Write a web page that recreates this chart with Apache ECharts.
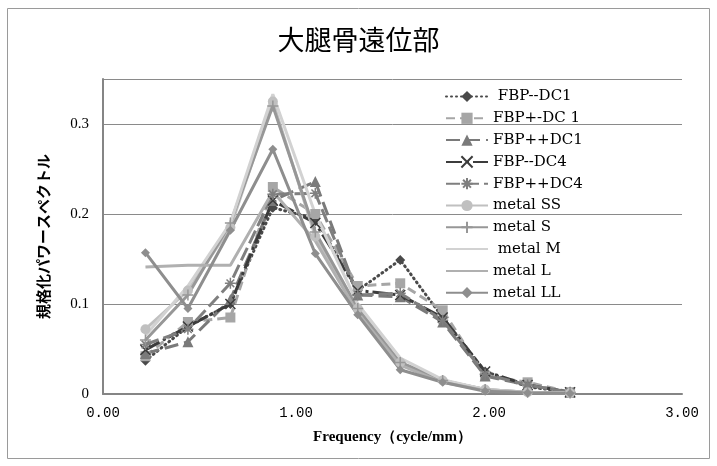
<!DOCTYPE html>
<html><head><meta charset="utf-8">
<script src="https://cdn.jsdelivr.net/npm/echarts@6/dist/echarts.min.js"></script>
<style>html,body{margin:0;padding:0;background:#fff}#c{width:717px;height:466px}</style>
</head><body><div id="c"></div>
<script>
const freq = [0.22,0.44,0.66,0.88,1.10,1.32,1.54,1.76,1.98,2.20,2.42];
const fbpMM_DC1 = [0.037,0.075,0.100,0.207,0.195,0.115,0.149,0.085,0.025,0.008,0.002];
const fbpPM_DC1 = [0.042,0.080,0.085,0.230,0.200,0.120,0.123,0.093,0.020,0.013,0.002];
const fbpPP_DC1 = [0.045,0.058,0.105,0.215,0.236,0.110,0.108,0.080,0.020,0.010,0.002];
const fbpMM_DC4 = [0.049,0.075,0.100,0.215,0.190,0.115,0.110,0.085,0.025,0.010,0.002];
const fbpPP_DC4 = [0.055,0.072,0.123,0.222,0.223,0.110,0.112,0.082,0.022,0.010,0.002];
const metalSS = [0.072,0.115,0.185,0.325,0.175,0.095,0.035,0.015,0.005,0.002,0.001];
const metalS  = [0.060,0.110,0.190,0.320,0.180,0.095,0.035,0.015,0.005,0.002,0.001];
const metalM  = [0.065,0.120,0.190,0.333,0.200,0.100,0.040,0.016,0.005,0.002,0.001];
const metalL  = [0.141,0.143,0.143,0.225,0.170,0.090,0.032,0.013,0.004,0.002,0.001];
const metalLL = [0.157,0.095,0.182,0.272,0.156,0.088,0.027,0.013,0.003,0.001,0.0005];
const seriesNames = [' FBP--DC1','FBP+-DC 1','FBP++DC1','FBP--DC4','FBP++DC4','metal SS','metal S',' metal M','metal L','metal LL'];
const xTicks = [0,1,2,3];
const yTicks = [0,0.1,0.2,0.3];

const allData = [fbpMM_DC1,fbpPM_DC1,fbpPP_DC1,fbpMM_DC4,fbpPP_DC4,metalSS,metalS,metalM,metalL,metalLL];
const styles = [
  {c:'#4a4a4a', type:[1,4], cap:'round', sym:'diamond', size:10, w:3},
  {c:'#a6a6a6', type:[9,5], sym:'rect', size:10, w:3},
  {c:'#7a7a7a', type:[14,6], sym:'triangle', size:11, w:3},
  {c:'#3c3c3c', type:[16,4,3,4], sym:'path://M0,0L10,10M10,0L0,10', size:10, w:3, stroke:true},
  {c:'#7f7f7f', type:[14,5], sym:'path://M5,0L5,10M0,5L10,5M1.5,1.5L8.5,8.5M8.5,1.5L1.5,8.5', size:11, w:3, stroke:true},
  {c:'#c0c0c0', type:'solid', sym:'circle', size:10, w:3},
  {c:'#979797', type:'solid', sym:'path://M5,0L5,10M0,5L10,5', size:11, w:3, stroke:true},
  {c:'#d2d2d2', type:'solid', sym:'none', size:4, w:3},
  {c:'#b0b0b0', type:'solid', sym:'none', size:4, w:3},
  {c:'#8e8e8e', type:'solid', sym:'diamond', size:9, w:3}
];

const series = allData.map((d,i)=>{
  const s = styles[i];
  return {
    name: seriesNames[i], type:'line',
    data: d.map((v,j)=>[freq[j], v]),
    symbol: s.sym, symbolSize: s.size,
    lineStyle:{color:s.c, width:s.w, type:s.type, cap:s.cap||'butt'},
    itemStyle: s.stroke ? {color:s.c, borderColor:s.c, borderWidth:1.5} : {color:s.c},
    emphasis:{disabled:true},
    animation:false
  };
});

const legendData = seriesNames.map((n,i)=> styles[i].sym==='none' ? {name:n, itemStyle:{opacity:0}} : {name:n});

const chart = echarts.init(document.getElementById('c'));
chart.setOption({
  animation:false,
  backgroundColor:'#fff',
  title:{text:'大腿骨遠位部', left:'center', top:21, textStyle:{fontFamily:'Noto Sans CJK JP', fontWeight:'normal', fontSize:27, color:'#000'}},
  grid:{left:103, right:35, top:79, bottom:72},
  legend:{
    orient:'vertical', left:440, top:84, itemWidth:42, itemHeight:14, itemGap:6.8,
    textStyle:{fontFamily:'DejaVu Serif', fontSize:15, color:'#000'},
    data: legendData
  },
  xAxis:{
    type:'value', min:0, max:3, interval:1,
    name:'Frequency（cycle/mm）', nameLocation:'middle', nameGap:36,
    nameTextStyle:{fontFamily:'Liberation Serif', fontWeight:'bold', fontSize:15, color:'#000'},
    axisLine:{show:true, lineStyle:{color:'#858585', width:2}},
    axisTick:{show:false}, splitLine:{show:false},
    axisLabel:{fontFamily:'Liberation Mono', fontSize:14, color:'#000', margin:12,
      formatter:v=>xTicks.includes(v)?v.toFixed(2):''}
  },
  yAxis:{
    type:'value', min:0, max:0.35, interval:0.1,
    name:'規格化パワースペクトル', nameLocation:'middle', nameGap:52, nameRotate:90,
    nameTextStyle:{fontFamily:'Noto Sans CJK JP', fontWeight:'bold', fontSize:15, color:'#000'},
    axisLine:{show:true, lineStyle:{color:'#858585', width:2}},
    axisTick:{show:false},
    splitLine:{show:true, lineStyle:{color:'#8a8a8a', width:1}},
    axisLabel:{fontFamily:'Liberation Serif', fontSize:15, color:'#000', margin:14, showMaxLabel:false,
      formatter:v=>{const t=yTicks.find(k=>Math.abs(k-v)<1e-9); return t===undefined?'':String(t);}}
  },
  graphic:[{type:'rect', shape:{x:7.5,y:8.5,width:702,height:450}, style:{fill:'none', stroke:'#9a9a9a', lineWidth:1}, silent:true}],
  series: series
});
</script></body></html>
